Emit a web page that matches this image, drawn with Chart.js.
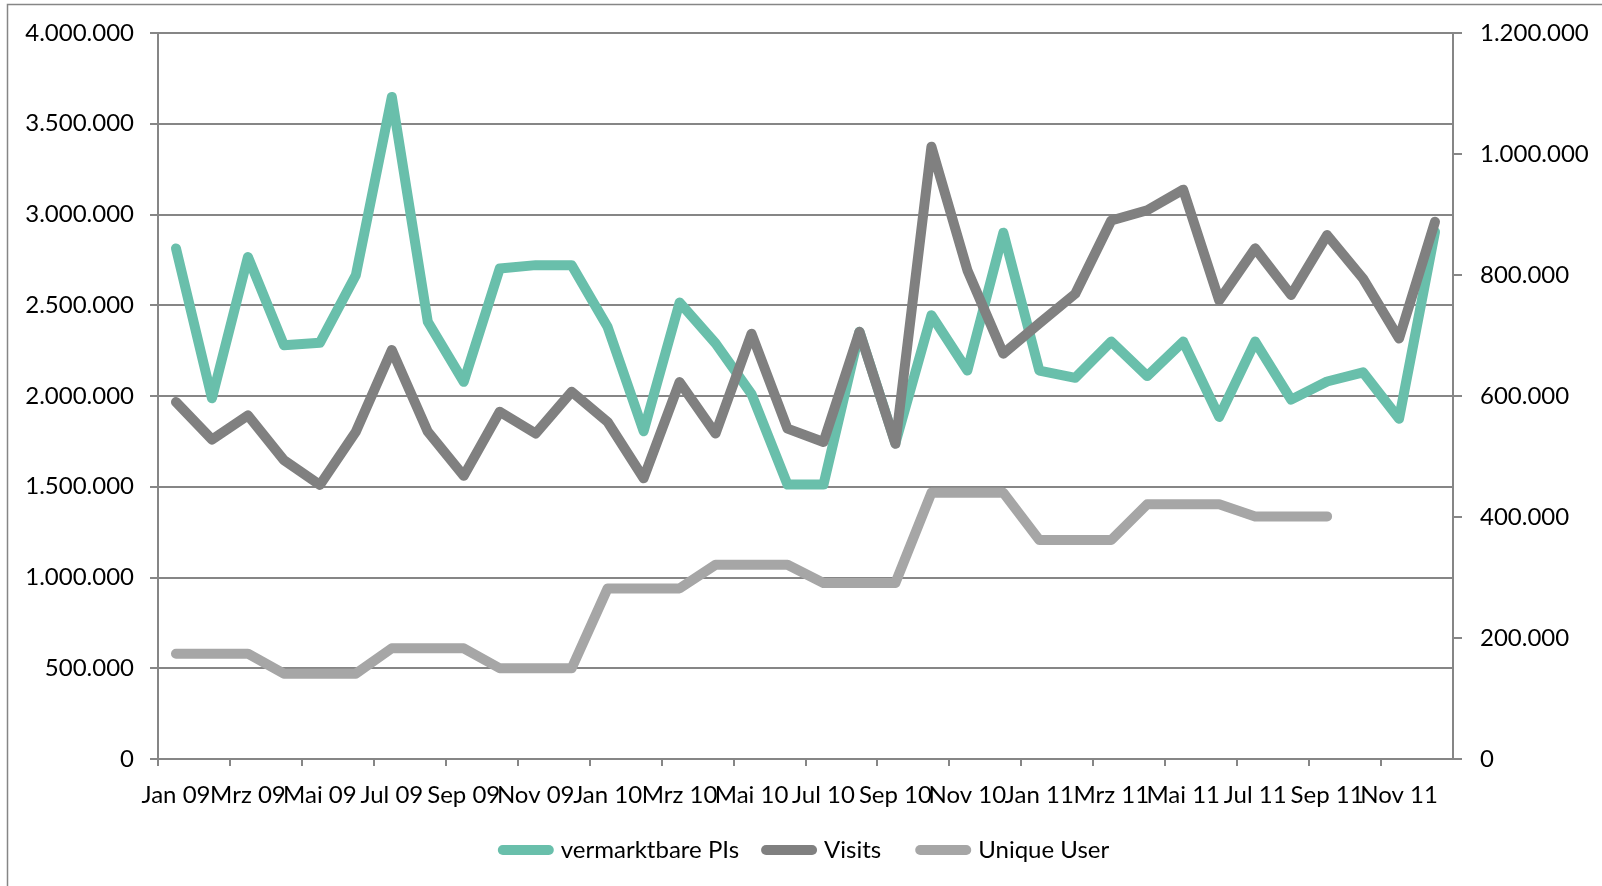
<!DOCTYPE html>
<html lang="de">
<head>
<meta charset="utf-8">
<title>vermarktbare PIs, Visits, Unique User</title>
<script src="https://cdn.jsdelivr.net/npm/chart.js@4.4.0/dist/chart.umd.min.js"></script>
<style>
  html, body { margin: 0; padding: 0; background: #fff; }
  #rahmen { width: 1602px; height: 886px; }
</style>
</head>
<body>
<div id="rahmen"><canvas id="grafico" width="1602" height="886"></canvas></div>
<script>
const monate = [
  'Jan 09', 'Feb 09', 'Mrz 09', 'Apr 09', 'Mai 09', 'Jun 09', 'Jul 09', 'Aug 09', 'Sep 09', 'Okt 09', 'Nov 09', 'Dez 09',
  'Jan 10', 'Feb 10', 'Mrz 10', 'Apr 10', 'Mai 10', 'Jun 10', 'Jul 10', 'Aug 10', 'Sep 10', 'Okt 10', 'Nov 10', 'Dez 10',
  'Jan 11', 'Feb 11', 'Mrz 11', 'Apr 11', 'Mai 11', 'Jun 11', 'Jul 11', 'Aug 11', 'Sep 11', 'Okt 11', 'Nov 11', 'Dez 11'
];

// linke Achse
const pis = [
  2813000, 1987000, 2766000, 2280000, 2293000, 2666000, 3648000, 2409000, 2078000, 2703000, 2721000, 2721000,
  2380000, 1806000, 2515000, 2290000, 2010000, 1512000, 1512000, 2354000, 1740000, 2445000, 2140000, 2900000,
  2140000, 2100000, 2300000, 2110000, 2300000, 1885000, 2300000, 1980000, 2080000, 2130000, 1875000, 2905000
];

// rechte Achse
const visits = [
  590000, 528000, 568000, 494000, 453000, 541000, 676000, 541000, 468000, 574000, 538000, 607000,
  557000, 464000, 623000, 538000, 703000, 546000, 524000, 706000, 521000, 1012000, 808000, 670000,
  720000, 769000, 890000, 907000, 941000, 758000, 844000, 767000, 866000, 794000, 695000, 888000
];

const uniqueUser = [
  174000, 174000, 174000, 141000, 141000, 141000, 183000, 183000, 183000, 150000, 150000, 150000,
  282000, 282000, 282000, 321000, 321000, 321000, 291000, 291000, 291000, 440000, 440000, 440000,
  362000, 362000, 362000, 421000, 421000, 421000, 401000, 401000, 401000, null, null, null
];

const ticksLinks = { min: 0, max: 4000000, step: 500000 };
const ticksRechts = { min: 0, max: 1200000, step: 200000 };

const grau = '#868686';
const schrift = { family: 'Lato', size: 24 };

function punkte(v) {
  return String(v).replace(/\B(?=(\d{3})+(?!\d))/g, '.');
}

// weisser Hintergrund + Rahmen wie im Excel-Export
const rahmenPlugin = {
  id: 'rahmen',
  beforeDraw(chart) {
    const c = chart.ctx;
    c.save();
    c.fillStyle = '#fff';
    c.fillRect(0, 0, chart.width, chart.height);
    c.strokeStyle = grau;
    c.lineWidth = 1.5;
    c.strokeRect(7.5, 4.5, chart.width + 20, chart.height + 20);
    c.restore();
  }
};

function linie(label, daten, farbe, achse, order) {
  return {
    label: label,
    data: daten,
    yAxisID: achse,
    order: order,
    borderColor: farbe,
    backgroundColor: farbe,
    borderWidth: 10,
    borderCapStyle: 'round',
    borderJoinStyle: 'round',
    pointRadius: 0,
    pointHoverRadius: 0,
    pointStyle: 'line',
    tension: 0,
    spanGaps: false
  };
}

new Chart(document.getElementById('grafico'), {
  type: 'line',
  data: {
    labels: monate,
    datasets: [
      linie('vermarktbare PIs', pis, '#69BFAB', 'y', 3),
      linie('Visits', visits, '#808080', 'y1', 2),
      linie('Unique User', uniqueUser, '#A6A6A6', 'y1', 1)
    ]
  },
  options: {
    responsive: false,
    animation: false,
    events: [],
    layout: { padding: { left: 22, right: 0, top: 33, bottom: 14 } },
    plugins: {
      tooltip: { enabled: false },
      legend: {
        position: 'bottom',
        labels: {
          usePointStyle: true,
          pointStyleWidth: 46,
          padding: 27,
          color: '#000',
          font: schrift,
          sort: (a, b) => a.datasetIndex - b.datasetIndex,
          generateLabels(chart) {
            const items = Chart.defaults.plugins.legend.labels.generateLabels(chart);
            items.forEach((it, i) => {
              it.lineCap = 'round';
              it.lineWidth = 10;
              it.strokeStyle = chart.data.datasets[it.datasetIndex].borderColor;
              // etwas mehr Abstand zwischen den Eintraegen
              if (i < items.length - 1) it.text += '\u2002';
            });
            return items;
          }
        }
      }
    },
    scales: {
      x: {
        offset: true,
        grid: {
          offset: true,
          drawOnChartArea: false,
          tickLength: 7,
          lineWidth: 2,
          color: ctx => (ctx.index % 2 === 0 ? grau : 'rgba(0,0,0,0)')
        },
        border: { color: grau, width: 2 },
        ticks: {
          autoSkip: false,
          maxRotation: 0,
          minRotation: 0,
          padding: 15,
          color: '#000',
          font: schrift,
          callback: function (val, i) {
            return i % 2 === 0 ? this.getLabelForValue(val) : '';
          }
        },
        afterFit: s => { s.height = 52; }
      },
      y: {
        position: 'left',
        min: ticksLinks.min,
        max: ticksLinks.max,
        grid: { color: grau, lineWidth: 2, tickLength: 8 },
        border: { color: grau, width: 2 },
        ticks: { stepSize: ticksLinks.step, padding: 16, color: '#000', font: schrift, callback: punkte },
        afterFit: s => { s.width = 136; }
      },
      y1: {
        position: 'right',
        min: ticksRechts.min,
        max: ticksRechts.max,
        grid: { drawOnChartArea: false, color: grau, lineWidth: 2, tickLength: 9 },
        border: { color: grau, width: 2 },
        ticks: { stepSize: ticksRechts.step, padding: 18, color: '#000', font: schrift, callback: punkte },
        afterFit: s => { s.width = 149; }
      }
    }
  },
  plugins: [rahmenPlugin]
});
</script>
</body>
</html>
